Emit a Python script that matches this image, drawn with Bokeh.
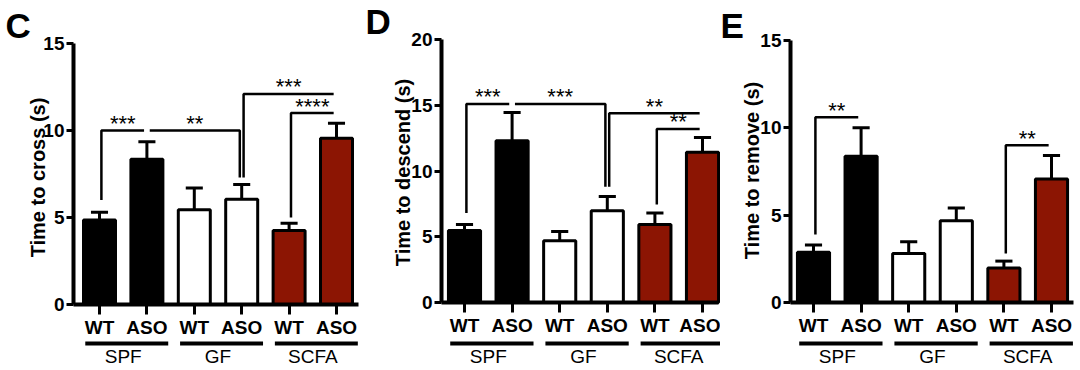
import math
from bokeh.plotting import figure
from bokeh.layouts import row
from bokeh.models import FixedTicker, Range1d
from bokeh.embed import file_html
from bokeh.resources import INLINE
from bokeh.core.properties import value

# ---------------- data ----------------
groups = ["SPF", "GF", "SCFA"]
genotypes = ["WT", "ASO"]
bar_colors = ["#000000", "#000000", "#ffffff", "#ffffff", "#8c1503", "#8c1503"]

cross_mean = [4.85, 8.35, 5.45, 6.05, 4.25, 9.55]
cross_sem = [0.45, 1.00, 1.25, 0.85, 0.42, 0.87]
descend_mean = [5.47, 12.3, 4.70, 6.97, 5.93, 11.43]
descend_sem = [0.46, 2.15, 0.70, 1.09, 0.87, 1.12]
remove_mean = [2.87, 8.37, 2.80, 4.68, 1.97, 7.07]
remove_sem = [0.42, 1.63, 0.68, 0.73, 0.40, 1.34]

cross_ticks = [0, 5, 10, 15]
descend_ticks = [0, 5, 10, 15, 20]
remove_ticks = [0, 5, 10, 15]

# significance brackets: leg bar, end bar, leg base, bracket height, label
cross_sig_leg = [1, 4, 4, 5]
cross_sig_end = [2, 2, 6, 6]
cross_sig_base = [6.0, 7.3, 7.3, 5.0]
cross_sig_top = [10.0, 10.0, 12.1, 11.0]
cross_sig_text = ["***", "**", "***", "****"]

descend_sig_leg = [1, 4, 4, 5]
descend_sig_end = [2, 2, 6, 6]
descend_sig_base = [6.8, 8.8, 8.8, 7.45]
descend_sig_top = [15.1, 15.1, 14.4, 13.2]
descend_sig_text = ["***", "***", "**", "**"]

remove_sig_leg = [1, 5]
remove_sig_end = [2, 6]
remove_sig_base = [3.9, 2.8]
remove_sig_top = [10.6, 9.0]
remove_sig_text = ["**", "**"]

FONT = "Liberation Sans"
H = 366


def panel(letter, ylabel, means, sems, ymax, yticks, sig_leg, sig_end, sig_base, sig_top, sig_text,
          left, width, axis_px, right_px, top_px, zero_px, first_center, spacing,
          letter_px, letter_py, label_px, label_py):
    # geometry helpers (page pixels -> data)
    ppu = (zero_px - top_px) / ymax

    def dx(px):
        return 1 + (px - first_center) / spacing

    def dy(py):
        return (zero_px - py) / ppu

    p = figure(width=width, height=H, x_range=Range1d(dx(left), dx(left + width)),
               y_range=Range1d(dy(H), dy(0)), output_backend="svg",
               toolbar_location=None, min_border=0, min_border_left=0,
               min_border_right=0, min_border_top=0, min_border_bottom=0)
    p.outline_line_color = None
    p.xgrid.visible = False
    p.ygrid.visible = False
    p.background_fill_color = "white"
    p.border_fill_color = "white"

    xs = [i + 1 for i in range(len(means))]
    tops = [m + s for m, s in zip(means, sems)]

    # error bars (upper only)
    p.segment(x0=xs, y0=means, x1=xs, y1=tops, line_color="black", line_width=3)
    p.segment(x0=[x - 0.18 for x in xs], y0=tops, x1=[x + 0.18 for x in xs], y1=tops,
              line_color="black", line_width=3)
    # bars
    p.vbar(x=xs, top=means, bottom=0, width=0.675, fill_color=bar_colors,
           line_color="black", line_width=3)

    # significance brackets
    for leg, end, base, top, txt in zip(sig_leg, sig_end, sig_base, sig_top, sig_text):
        d = 1 if end > leg else -1
        xl = leg + 0.04 * d
        xe = end - 0.06 * d
        p.line(x=[xl, xl, xe], y=[base, top, top], line_color="black", line_width=2.5)
        p.text(x=[(xl + xe) / 2], y=[top + 7 / ppu], text=[txt], text_align="center",
               text_baseline="middle", text_font=value(FONT), text_font_size="22px",
               text_color="black")

    # group underlines and labels
    uy = dy(343)
    x0s = [2 * g + 1 - 0.3 for g in range(len(groups))]
    x1s = [2 * g + 2 + 0.45 for g in range(len(groups))]
    p.segment(x0=x0s, y0=[uy] * 3, x1=x1s, y1=[uy] * 3, line_color="black", line_width=4)
    p.text(x=[2 * g + 1.5 for g in range(len(groups))], y=[dy(355.5)] * 3, text=groups,
           text_align="center", text_baseline="middle", text_font=value(FONT),
           text_font_size="19px", text_color="black")

    # y axis (placed at its own data location)
    yax = p.yaxis[0]
    yax.fixed_location = dx(axis_px)
    yax.bounds = (0, ymax)
    yax.ticker = FixedTicker(ticks=yticks, minor_ticks=[])
    yax.axis_line_width = 4
    yax.axis_line_color = "black"
    yax.major_tick_line_width = 3
    yax.major_tick_out = 7
    yax.major_tick_in = 0
    yax.minor_tick_out = 0
    yax.minor_tick_in = 0
    yax.major_label_text_font = FONT
    yax.major_label_text_font_size = "19px"
    yax.major_label_text_font_style = "bold"
    yax.major_label_text_color = "black"
    yax.major_label_standoff = 2

    # y axis title
    p.text(x=[dx(label_px)], y=[dy(label_py)], text=[ylabel], angle=math.pi / 2,
           text_align="center", text_baseline="middle", text_font=value(FONT),
           text_font_size="20px", text_font_style="bold", text_color="black")

    # x axis at y = 0
    xax = p.xaxis[0]
    xax.fixed_location = 0
    xax.bounds = (dx(axis_px), dx(right_px))
    xax.ticker = FixedTicker(ticks=xs, minor_ticks=[])
    xax.major_label_overrides = {x: genotypes[(x - 1) % 2] for x in xs}
    xax.axis_line_width = 4
    xax.axis_line_color = "black"
    xax.major_tick_line_width = 3
    xax.major_tick_out = 10
    xax.major_tick_in = 0
    xax.minor_tick_out = 0
    xax.minor_tick_in = 0
    xax.major_label_text_font = FONT
    xax.major_label_text_font_size = "19px"
    xax.major_label_text_font_style = "bold"
    xax.major_label_text_color = "black"
    xax.major_label_standoff = 2

    # panel letter
    p.text(x=[dx(letter_px)], y=[dy(letter_py)], text=[letter], text_align="left",
           text_baseline="middle", text_font=value(FONT), text_font_size="35px",
           text_font_style="bold", text_color="black")
    return p


pC = panel("C", "Time to cross (s)", cross_mean, cross_sem, 15, cross_ticks,
           cross_sig_leg, cross_sig_end, cross_sig_base, cross_sig_top, cross_sig_text,
           left=0, width=360, axis_px=73, right_px=358, top_px=43, zero_px=304,
           first_center=99, spacing=47.4, letter_px=5, letter_py=25,
           label_px=37, label_py=177)
pD = panel("D", "Time to descend (s)", descend_mean, descend_sem, 20, descend_ticks,
           descend_sig_leg, descend_sig_end, descend_sig_base, descend_sig_top, descend_sig_text,
           left=360, width=360, axis_px=441, right_px=718, top_px=39, zero_px=302,
           first_center=464, spacing=47.6, letter_px=365, letter_py=21,
           label_px=402, label_py=172)
pE = panel("E", "Time to remove (s)", remove_mean, remove_sem, 15, remove_ticks,
           remove_sig_leg, remove_sig_end, remove_sig_base, remove_sig_top, remove_sig_text,
           left=720, width=356, axis_px=790, right_px=1073, top_px=40, zero_px=302,
           first_center=813, spacing=47.6, letter_px=720, letter_py=25,
           label_px=751, label_py=170)

layout = row(pC, pD, pE)
open("out.html", "w").write(file_html(layout, INLINE))
